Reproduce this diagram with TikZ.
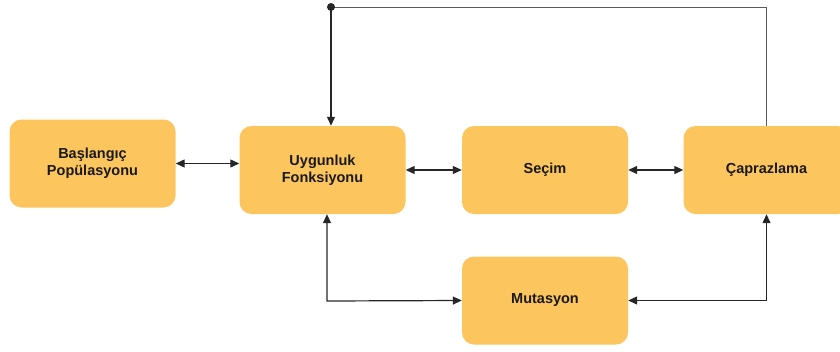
\documentclass[tikz,border=0pt]{standalone}
\usepackage{fontspec}
\setmainfont{Liberation Sans}
\usetikzlibrary{arrows.meta}
\definecolor{boxfill}{RGB}{253,197,94}
\definecolor{linegray}{RGB}{38,38,38}

\begin{document}
\begin{tikzpicture}
		[x=1pt,y=-1pt,every node/.style={shape=rectangle, rounded corners=12pt, fill=boxfill, minimum width=166pt, minimum height=88pt, inner sep=0pt, align=center, text=black!90, font=\fontsize{14.5}{16.7}\selectfont\bfseries},
		>={Triangle[length=9pt,width=8pt]}]
		\useasboundingbox (0,0) rectangle (840,351);
		\node (n1) at (92.5,163.5) {Başlangıç\\Popülasyonu};
		\node (n2) at (322.5,170)  {Uygunluk\\Fonksiyonu};
		\node (n3) at (545,170)    {Seçim};
		\node (n4) at (766.5,170)  {Çaprazlama};
		\node (n5) at (545,300.5)  {Mutasyon};
		\coordinate (top) at (331,7);
		\coordinate (c1) at (327,301);
		%\node (front) at (0,0) {}
		\foreach \from/\to in {n2/n3,n3/n4}
		\draw[<->,line width=1.2pt,linegray]  (\from) -- (\to);
		\draw[<->,line width=1.2pt,linegray]  (n1.east) -- (n1.east -| n2.west);
		\draw[<->,line width=1.2pt,linegray]  (c1 |- n2.south) -- (c1) -- (n5.west);
		\draw[<->,line width=1.2pt,linegray]  (n5.east) -- (n5.east -| n4.south) -- (n4.south);
		% geri besleme
		\draw[line width=0.9pt,black!65]  (n4.north) -- (n4.north |- top) -- (top);
		\draw[->,line width=1.2pt,linegray]  (top) -- (top |- n2.north);
		\fill[linegray] (top) circle (4pt);
	\end{tikzpicture}
\end{document}
